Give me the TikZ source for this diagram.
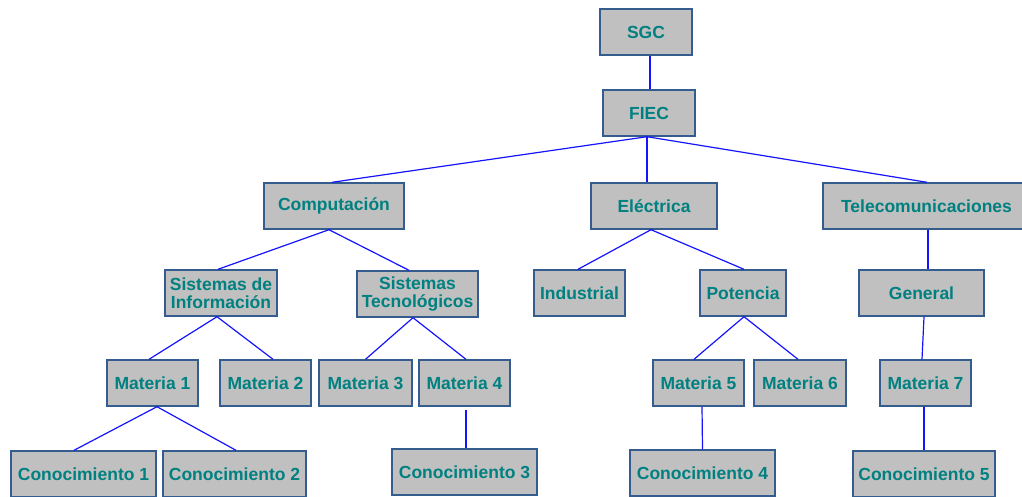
\documentclass[tikz,border=0pt]{standalone}
\usepackage{fontspec}
\setmainfont{Liberation Sans}
\definecolor{boxfill}{RGB}{192,192,192}
\definecolor{boxline}{RGB}{52,92,142}
\definecolor{txt}{RGB}{0,128,128}
\definecolor{link}{RGB}{20,20,255}
\begin{document}
\begin{tikzpicture}[x=1pt,y=-1pt,
  box/.style={draw=boxline,fill=boxfill,line width=1.4pt,rectangle,minimum height=46pt,
    inner sep=0pt,align=center,text=txt,font=\fontsize{17.5}{18}\selectfont\bfseries},
  conn/.style={draw=link,line width=1.2pt}]
\useasboundingbox (0,0) rectangle (1022,496);
\begin{scope}
\clip (0,0) rectangle (1022,496);
% nodes
\node[box,minimum width=92pt] (sgc) at (646,32) {SGC};
\node[box,minimum width=92pt] (fiec) at (649,113) {FIEC};
\node[box,minimum width=140pt] (comp) at (334,206) {Computación};
\node[box,minimum width=126pt] (elec) at (654,206) {Eléctrica};
\node[box,minimum width=207pt] (tele) at (926.5,206) {Telecomunicaciones};
\node[box,minimum width=112pt] (sdi) at (221,293) {Sistemas de\\Información};
\node[box,minimum width=121pt] (st) at (417.5,294) {Sistemas\\Tecnológicos};
\node[box,minimum width=91pt] (ind) at (579.5,293) {Industrial};
\node[box,minimum width=86pt] (pot) at (743,293) {Potencia};
\node[box,minimum width=125pt] (gen) at (921.5,293) {General};
\node[box,minimum width=91pt] (m1) at (152.5,383) {Materia 1};
\node[box,minimum width=91pt] (m2) at (265.5,383) {Materia 2};
\node[box,minimum width=93pt] (m3) at (365.5,383) {Materia 3};
\node[box,minimum width=91pt] (m4) at (464.5,383) {Materia 4};
\node[box,minimum width=91pt] (m5) at (698.5,383) {Materia 5};
\node[box,minimum width=92pt] (m6) at (800,383) {Materia 6};
\node[box,minimum width=91pt] (m7) at (925.5,383) {Materia 7};
\node[box,minimum width=145pt] (c1) at (83.5,474) {Conocimiento 1};
\node[box,minimum width=143pt] (c2) at (234.5,474) {Conocimiento 2};
\node[box,minimum width=145pt] (c3) at (464.5,472) {Conocimiento 3};
\node[box,minimum width=145pt] (c4) at (702.5,473) {Conocimiento 4};
\node[box,minimum width=142pt] (c5) at (924,474) {Conocimiento 5};
\end{scope}
% connectors
\draw[conn] ([xshift=4pt]sgc.south) -- ([xshift=1pt]fiec.north);
\draw[conn] ([xshift=-2pt]fiec.south) -- ([xshift=-2pt]comp.north);
\draw[conn] ([xshift=-2pt]fiec.south) -- ([xshift=-7pt]elec.north);
\draw[conn] ([xshift=-2pt]fiec.south) -- ([xshift=0.5pt]tele.north);
\draw[conn] ([xshift=-5pt]comp.south) -- ([xshift=-3pt]sdi.north);
\draw[conn] ([xshift=-5pt]comp.south) -- ([xshift=-8.5pt]st.north);
\draw[conn] ([xshift=-3pt]elec.south) -- ([xshift=-1.5pt]ind.north);
\draw[conn] ([xshift=-3pt]elec.south) -- ([xshift=1pt]pot.north);
\draw[conn] ([xshift=1.5pt]tele.south) -- ([xshift=6.5pt]gen.north);
\draw[conn] ([xshift=-4pt]sdi.south) -- ([xshift=-3.5pt]m1.north);
\draw[conn] ([xshift=-4pt]sdi.south) -- ([xshift=7.5pt]m2.north);
\draw[conn] ([xshift=-4.5pt]st.south) -- ([xshift=0pt]m3.north);
\draw[conn] ([xshift=-4.5pt]st.south) -- ([xshift=1.5pt]m4.north);
\draw[conn] ([xshift=1pt]pot.south) -- ([xshift=-4.5pt]m5.north);
\draw[conn] ([xshift=1pt]pot.south) -- ([xshift=-2pt]m6.north);
\draw[conn] ([xshift=2.5pt]gen.south) -- ([xshift=-3.5pt]m7.north);
\draw[conn] ([xshift=4.5pt]m1.south) -- ([xshift=-9.5pt]c1.north);
\draw[conn] ([xshift=4.5pt]m1.south) -- ([xshift=1.5pt]c2.north);
\draw[conn] ([xshift=1.5pt,yshift=-3pt]m4.south) -- ([xshift=1.5pt]c3.north);
\draw[conn] ([xshift=3.5pt]m5.south) -- ([xshift=0pt]c4.north);
\draw[conn] ([xshift=-1.5pt]m7.south) -- ([xshift=0pt]c5.north);
\end{tikzpicture}
\end{document}
